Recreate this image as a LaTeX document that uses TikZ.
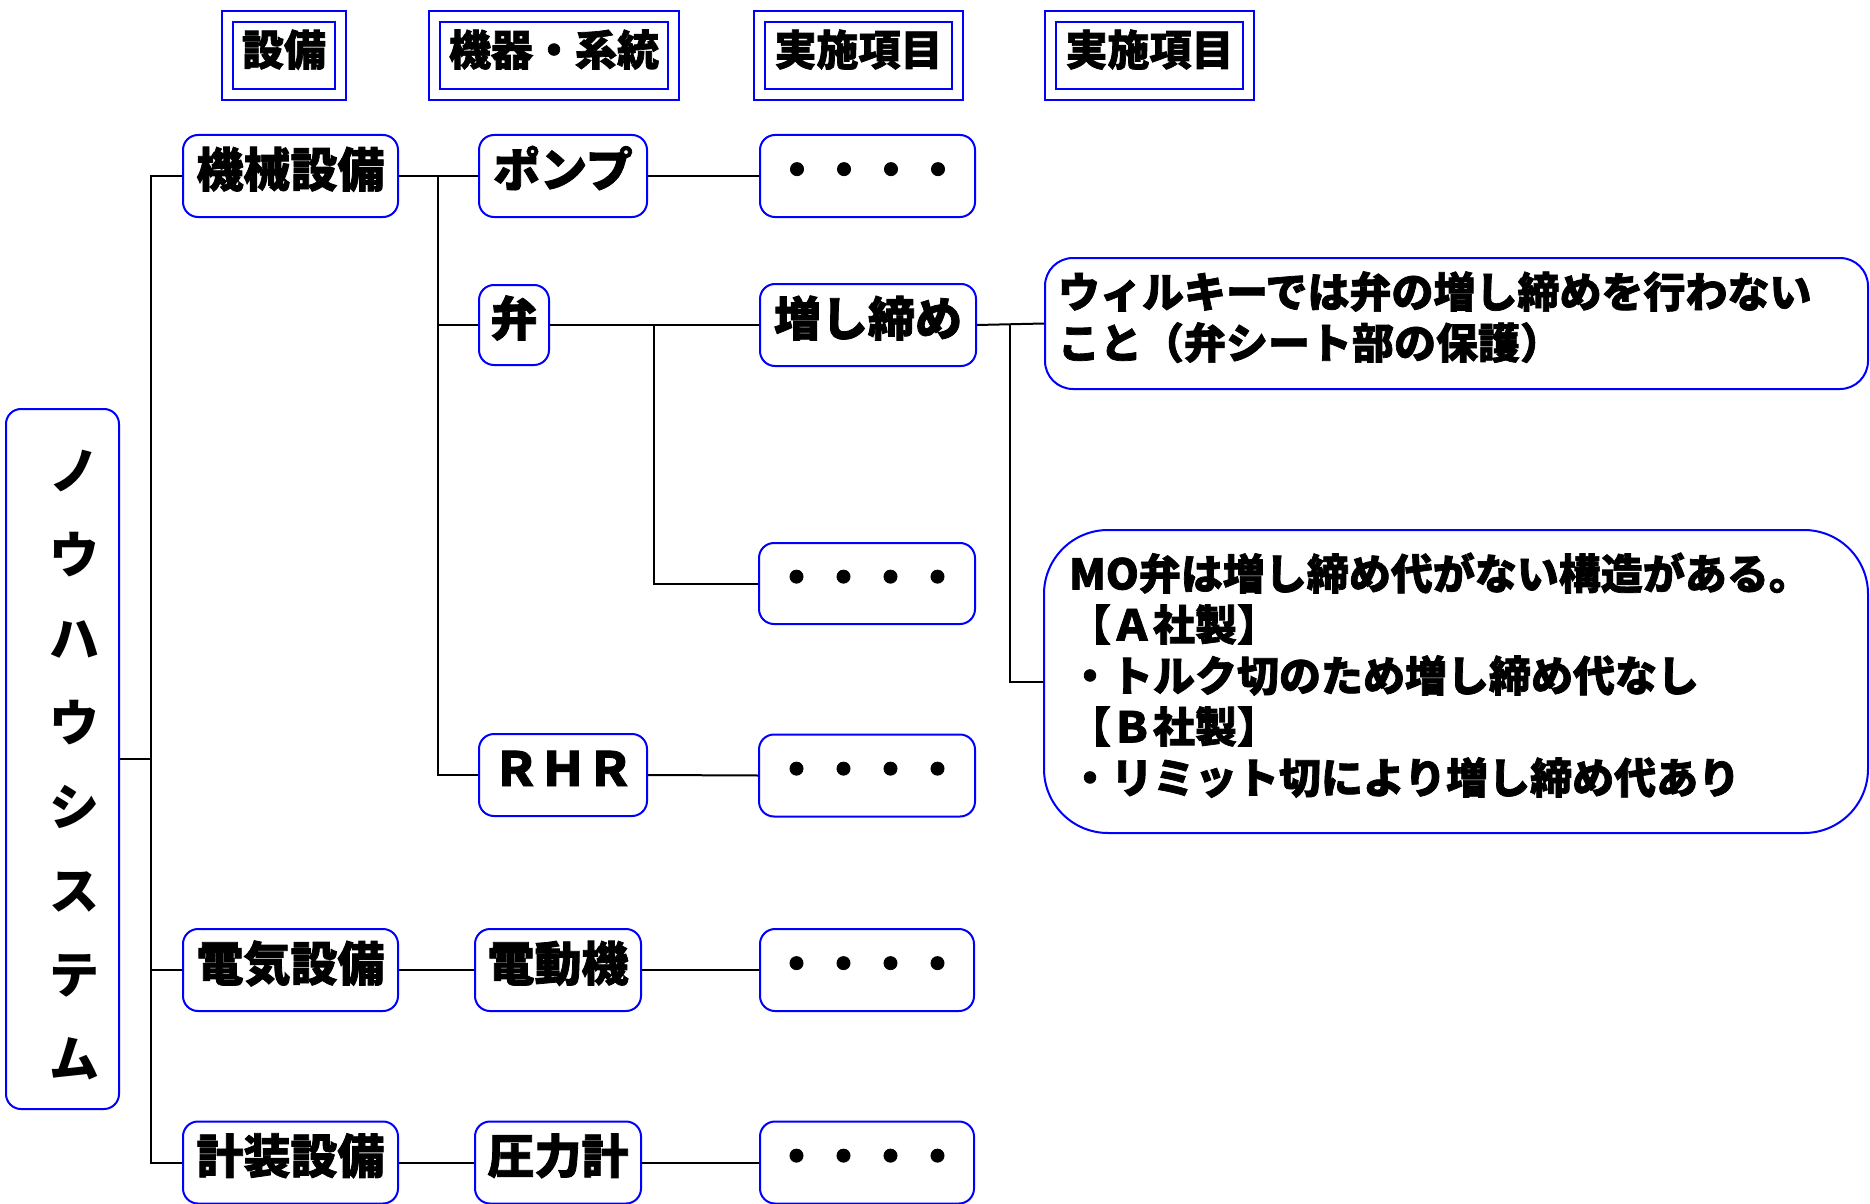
\documentclass[tikz,border=0pt]{standalone}
\usepackage{fontspec}
\setmainfont{Noto Sans CJK JP}
\newfontfamily\heavy{Noto Sans CJK JP}[BoldFeatures={FakeBold=1.7}]
\begin{document}
\begin{tikzpicture}[x=0.5pt,y=-0.5pt,
  box/.style={draw=blue, line width=1pt, rounded corners=7.5pt, fill=white, inner sep=0pt,
    font=\heavy\bfseries\fontsize{23.5}{28}\selectfont, text height=20pt, text depth=9pt,
    minimum height=41pt},
  hdr/.style={draw=blue, line width=1pt, double=white, double distance=4.5pt, inner sep=0pt,
    font=\heavy\bfseries\fontsize{21}{25}\selectfont, text height=18pt, text depth=8pt,
    minimum height=39pt},
  note/.style={draw=blue, line width=1pt, fill=white, align=left,
    font=\heavy\bfseries\fontsize{21}{25.5}\selectfont},
  conn/.style={draw=black, line width=1pt}
]
\useasboundingbox (0,0) rectangle (1870,1204);

% headers
\node[hdr, minimum width=56.5pt] (h1) at (284,55.5) {設備};
\node[hdr, minimum width=119.5pt] (h2) at (554,55.5) {機器・系統};
\node[hdr, minimum width=99pt] (h3) at (858.5,55.5) {実施項目};
\node[hdr, minimum width=99pt] (h4) at (1149.5,55.5) {実施項目};

% root
\node[draw=blue, line width=1pt, rounded corners=7.5pt, fill=white, inner sep=0pt,
  minimum width=56.5pt, minimum height=350pt] (n0) at (62.5,759) {};
\node[inner sep=0pt, align=center, font=\bfseries\fontsize{25}{42}\selectfont]
  (n0t) at (74.5,765) {ノ\\ウ\\ハ\\ウ\\シ\\ス\\テ\\ム};

% column a
\node[box, minimum width=107.5pt] (a1) at (290.5,176) {機械設備};
\node[box, minimum width=107.5pt] (a2) at (290.5,970) {電気設備};
\node[box, minimum width=107.5pt] (a3) at (290.5,1162.5) {計装設備};

% column b
\node[box, minimum width=84pt] (b1) at (563,176) {ポンプ};
\node[box, minimum width=35pt, minimum height=40pt] (b2) at (514,325) {弁};
\node[box, minimum width=84pt] (b3) at (563,775) {ＲＨＲ};
\node[box, minimum width=83pt] (b4) at (558,970) {電動機};
\node[box, minimum width=83pt] (b5) at (558,1162.5) {圧力計};

% column c
\node[box, minimum width=107.5pt] (c1) at (867.5,176) {・・・・};
\node[box, minimum width=108pt] (c2) at (868,325) {増し締め};
\node[box, minimum width=108pt, minimum height=40.5pt] (c3) at (867,583.5) {・・・・};
\node[box, minimum width=108pt] (c4) at (867,775.5) {・・・・};
\node[box, minimum width=107pt] (c5) at (867,970) {・・・・};
\node[box, minimum width=107pt] (c6) at (867,1162.5) {・・・・};

% notes
\node[note, rounded corners=14pt, text width=398.5pt, inner xsep=6.5pt, inner ysep=0pt,
  minimum height=65.5pt] (d1) at (1456.5,323.5)
  {ウィルキーでは弁の増し締めを行わない\\こと（弁シート部の保護）\rule[-8.5pt]{0pt}{0pt}};
\node[note, rounded corners=32pt, text width=387pt, inner xsep=12.5pt, inner ysep=0pt,
  minimum height=151.5pt] (d2) at (1456,681.5)
  {MO弁は増し締め代がない構造がある。\\【Ａ社製】\\・トルク切のため増し締め代なし\\【Ｂ社製】\\・リミット切により増し締め代あり\rule[-8.5pt]{0pt}{0pt}};

% branch coordinates
\coordinate (tr) at (151,0);
\coordinate (br) at (438,0);
\coordinate (br2) at (654,0);
\coordinate (br3) at (1010,0);

% connectors
\draw[conn] (n0.east) -- (n0.east -| tr);
\draw[conn] (a1.west) -- (a1.west -| tr) -- (a3.west -| tr) -- (a3.west);
\draw[conn] (a2.west) -- (a2.west -| tr);

\draw[conn] (a1.east) -- (b1.west);
\draw[conn] (a1.east -| br) -- (b3.west -| br) -- (b3.west);
\draw[conn] (b2.west -| br) -- (b2.west);

\draw[conn] (b1.east) -- (c1.west);
\draw[conn] (b2.east) -- (c2.west);
\draw[conn] (b2.east -| br2) |- (c3.west);
\draw[conn] (b3.east) -- (c4.west);
\draw[conn] (a2.east) -- (b4.west);
\draw[conn] (b4.east) -- (c5.west);
\draw[conn] (a3.east) -- (b5.west);
\draw[conn] (b5.east) -- (c6.west);

\draw[conn] (c2.east) -- (d1.west);
\draw[conn] (c2.east -| br3) |- (d2.west);
\end{tikzpicture}
\end{document}
